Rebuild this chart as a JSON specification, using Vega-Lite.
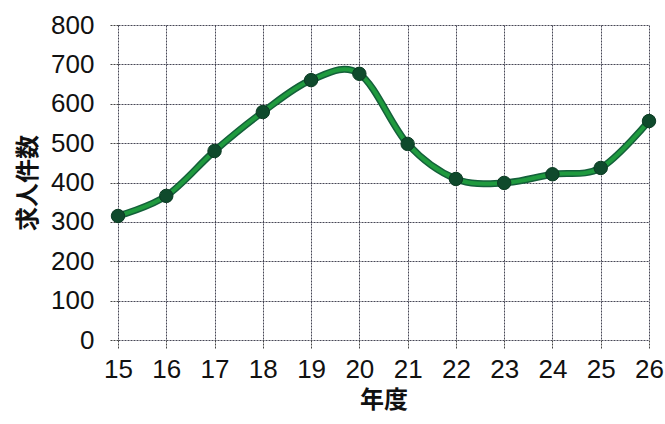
{
  "$schema": "https://vega.github.io/schema/vega-lite/v6.json",
  "autosize": {"type": "none"},
  "width": 531,
  "height": 315,
  "padding": {"left": 118, "top": 25, "right": 16, "bottom": 84},
  "background": "white",
  "data": {"values": [
    {"year": 15, "count": 315},
    {"year": 16, "count": 366},
    {"year": 17, "count": 480},
    {"year": 18, "count": 579},
    {"year": 19, "count": 660},
    {"year": 20, "count": 676},
    {"year": 21, "count": 498},
    {"year": 22, "count": 409},
    {"year": 23, "count": 399},
    {"year": 24, "count": 421},
    {"year": 25, "count": 437},
    {"year": 26, "count": 556}
  ]},
  "config": {
    "view": {"stroke": null},
    "font": "Liberation Sans"
  },
  "encoding": {
    "x": {
      "field": "year", "type": "quantitative",
      "scale": {"domain": [15, 26], "nice": false, "zero": false},
      "axis": {
        "title": "年度", "titleFont": "Noto Sans CJK JP", "titleFontSize": 24, "titleFontWeight": "bold", "titleColor": "#111",
        "titlePadding": 6,
        "values": [15,16,17,18,19,20,21,22,23,24,25,26], "format": "d",
        "labelFontSize": 26, "labelColor": "#111", "labelPadding": 8, "labelFlush": false,
        "domain": false, "tickColor": "#444", "tickSize": 8, "tickDash": [2, 1],
        "grid": true, "gridColor": "#334", "gridDash": [2, 1], "gridOpacity": 0.9
      }
    },
    "y": {
      "field": "count", "type": "quantitative",
      "scale": {"domain": [0, 800], "nice": false},
      "axis": {
        "title": "求人件数", "titleFont": "Noto Sans CJK JP", "titleFontSize": 24, "titleFontWeight": "bold", "titleColor": "#111",
        "titlePadding": 10,
        "values": [0,100,200,300,400,500,600,700,800],
        "labelFontSize": 26, "labelColor": "#111", "labelPadding": 16, "labelFlush": false,
        "domain": false, "tickColor": "#444", "tickSize": 8, "tickDash": [2, 1],
        "grid": true, "gridColor": "#334", "gridDash": [2, 1], "gridOpacity": 0.9
      }
    }
  },
  "layer": [
    {"mark": {"type": "line", "interpolate": "cardinal", "tension": 0, "color": "#14603a", "strokeWidth": 7}},
    {"mark": {"type": "line", "interpolate": "cardinal", "tension": 0, "color": "#1f9a3e", "strokeWidth": 4}},
    {"mark": {"type": "point", "filled": true, "size": 180, "color": "#0f4a2c", "opacity": 1, "stroke": "#0a3a22", "strokeWidth": 1}}
  ]
}
